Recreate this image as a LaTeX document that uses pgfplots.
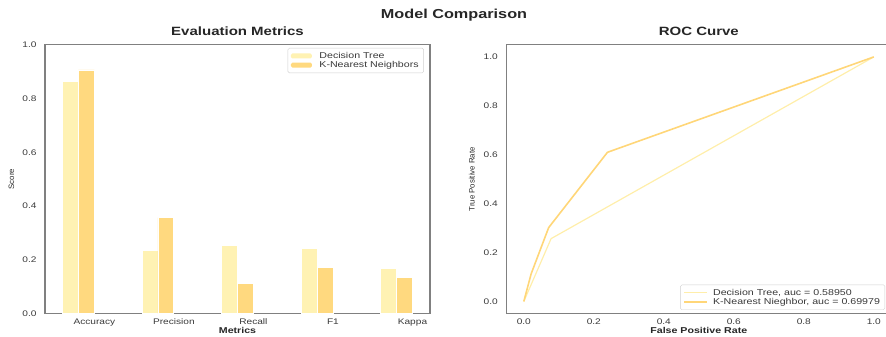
\documentclass[border=0pt]{standalone}
\usepackage{fontspec}
\setmainfont{Liberation Sans}[FakeStretch=1.25]
\newfontfamily\plainfont{Liberation Sans}
\usepackage{pgfplots}
\pgfplotsset{compat=1.18}
\definecolor{dtc}{HTML}{FFF2B3}
\definecolor{knc}{HTML}{FFD97F}
\definecolor{dtl}{HTML}{FFEEAA}
\definecolor{knl}{HTML}{FFD678}
\definecolor{framec}{HTML}{808080}
\definecolor{tickc}{HTML}{3A3A3A}
\pgfplotsset{
  common/.style={
    scale only axis, width=385pt, height=269pt,
    axis line style={framec, line width=1.2pt},
    major tick length=0pt,
    tick style={draw=none},
    ticklabel style={font=\fontsize{8.1}{9}\selectfont, text=tickc},
    /pgf/number format/assume math mode=true,
    yticklabel style={/pgf/number format/fixed, /pgf/number format/fixed zerofill, /pgf/number format/precision=1, xshift=-5pt},
    xticklabel style={yshift=-1.5pt},
    title style={font=\bfseries\fontsize{12}{13}\selectfont, text=black!85, at={(0.5,1)}, anchor=base, yshift=3.5pt},
    xlabel style={font=\bfseries\fontsize{8.5}{9}\selectfont, text=black!85, at={(axis description cs:0.5,0)}, anchor=north, yshift=-10pt},
    ylabel style={font=\plainfont\fontsize{7.8}{8}\selectfont, text=black!85, anchor=south},
    legend style={font=\fontsize{8.5}{9}\selectfont, draw=black!18, rounded corners=1.5pt, text=tickc, fill=white},
    legend cell align=left,
  },
  dtbar/.style={legend image code/.code={\fill[fill=dtc, draw=none] (0pt,-2.5pt) rectangle (21pt,2.5pt);}},
  knbar/.style={legend image code/.code={\fill[fill=knc, draw=none] (0pt,-2.5pt) rectangle (21pt,2.5pt);}},
  dtline/.style={legend image code/.code={\draw[draw=dtl, line width=1.3pt] (0pt,0pt) -- (23pt,0pt);}},
  knline/.style={legend image code/.code={\draw[draw=knl, line width=1.7pt] (0pt,0pt) -- (23pt,0pt);}},
}
\begin{document}
\begin{tikzpicture}
\begin{axis}[common,
  at={(45pt,23.3pt)}, anchor=south west,
  xmin=-0.62, xmax=4.22, ymin=0, ymax=1,
  xtick={0,1,2,3,4},
  xticklabels={Accuracy,Precision,Recall,F1,Kappa},
  ytick={0,0.2,0.4,0.6,0.8,1.0},
  title={Evaluation Metrics},
  xlabel={Metrics}, ylabel={Score},
  ylabel style={at={(axis description cs:-0.071,0.5)}},
  legend style={at={(0.984,0.988)}, anchor=north east, row sep=-2.5pt},
]
\addplot[ybar, bar width=0.2, bar shift=-0.3, fill=dtc, draw=white, line width=0.8pt, dtbar]
  coordinates {(0,0.865) (1,0.234) (2,0.255) (3,0.243) (4,0.169)};
\addlegendentry{\hspace{5.5pt}Decision Tree}
\addplot[ybar, bar width=0.2, bar shift=-0.1, fill=knc, draw=white, line width=0.8pt, knbar]
  coordinates {(0,0.906) (1,0.357) (2,0.114) (3,0.172) (4,0.135)};
\addlegendentry{\hspace{5.5pt}K-Nearest Neighbors}
\end{axis}
\begin{axis}[common,
  at={(506.3pt,23.3pt)}, anchor=south west,
  xmin=-0.05, xmax=1.05, ymin=-0.05, ymax=1.05,
  xtick={0,0.2,0.4,0.6,0.8,1.0},
  ytick={0,0.2,0.4,0.6,0.8,1.0},
  xticklabel style={/pgf/number format/fixed, /pgf/number format/fixed zerofill, /pgf/number format/precision=1},
  title={ROC Curve},
  xlabel={False Positive Rate}, ylabel={True Positive Rate},
  ylabel style={at={(axis description cs:-0.073,0.5)}},
  legend style={at={(0.984,0.014)}, anchor=south east, row sep=-2.5pt},
]
\addplot[dtl, line width=1.2pt, dtline]
  coordinates {(0,0) (0.078,0.257) (1,1)};
\addlegendentry{\hspace{3pt}Decision Tree, auc = 0.58950}
\addplot[knl, line width=1.6pt, knline]
  coordinates {(0,0) (0.021,0.113) (0.071,0.302) (0.239,0.61) (1,1)};
\addlegendentry{\hspace{3pt}K-Nearest Nieghbor, auc = 0.69979}
\end{axis}
\node[anchor=base, font=\bfseries\fontsize{13}{14}\selectfont, text=black!85] at (454pt,318.7pt) {Model Comparison};
\pgfresetboundingbox
\useasboundingbox (0,0) rectangle (886pt,337pt);
\end{tikzpicture}
\end{document}
